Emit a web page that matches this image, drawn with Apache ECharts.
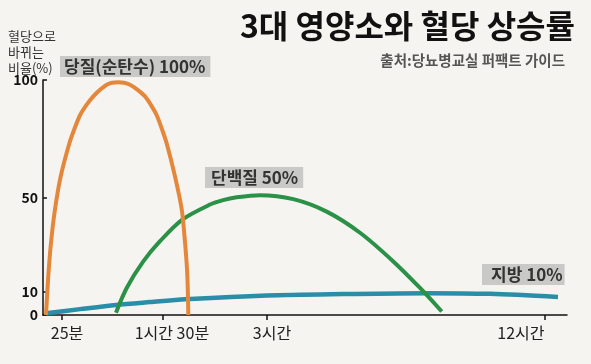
<!DOCTYPE html>
<html><head><meta charset="utf-8">
<script src="https://cdn.jsdelivr.net/npm/echarts@6/dist/echarts.min.js"></script>
<style>html,body{margin:0;padding:0;background:#f5f4f1}#c{width:591px;height:364px}</style>
</head><body><div id="c"></div>
<script>
// x is a display-position scale (0..100) of the chart's non-linear time axis
const xTickPos = [3.6, 22.9, 42.7, 95.8];
const xTickLabels = ['25분', '1시간 30분', '3시간', '12시간'];
const xLabelAt = [4.6, 24.6, 43.7, 91.2];
const yTicks = [0, 10, 50, 100];

const carbX = [0.57, 1.01, 1.53, 2.29, 3.38, 5.02, 5.97, 7.06, 8.34, 9.6, 10.88, 12.16, 13.17, 14.37, 15.46, 16.6, 17.94, 19.47, 20.61, 21.7, 22.71, 23.61, 25.19, 26.47, 27.1, 27.54, 27.73];
const carbY = [0, 16.6, 30.8, 45, 59, 73, 79, 85, 89.5, 93, 95.8, 98, 98.8, 99, 98.8, 98, 96, 93, 89.3, 85, 79, 73, 59, 45, 31, 17, 0];
const protX = [13.93, 15.97, 19.14, 22.33, 26.58, 31.87, 34.35, 36.97, 41.41, 47.77, 54.14, 60.5, 66.85, 71.95, 76.09];
const protY = [1, 11.5, 22.8, 31.4, 40.6, 47, 48.9, 50.1, 51, 49.3, 44, 35, 22.8, 11.5, 1.5];
const fatX = [0.57, 7.06, 13.93, 20.42, 28.05, 42.75, 57.25, 73.28, 85.3, 98.28];
const fatY = [0.7, 2.5, 4.3, 5.5, 6.8, 8.3, 8.9, 9.3, 9.0, 7.7];

const zip = (xs, ys) => xs.map((x, i) => [x, ys[i]]);
const chart = echarts.init(document.getElementById('c'));
const ff = '"Noto Sans CJK KR", "Noto Sans", sans-serif';
chart.setOption({
  backgroundColor: '#f5f4f1',
  animation: false,
  title: [
    {text: '3대 영양소와 혈당 상승률', right: 11, top: 5,
     textStyle: {fontSize: 32, fontWeight: 'bold', color: '#111', fontFamily: ff}},
    {text: '출처:당뇨병교실 퍼팩트 가이드', right: 21, top: 48,
     textStyle: {fontSize: 14.5, fontWeight: 'bold', color: '#555', fontFamily: ff}},
    {text: '혈당으로\n바뀌는\n비율(%)', left: 3, top: 23,
     textStyle: {fontSize: 13, fontWeight: 'normal', color: '#333', lineHeight: 16, fontFamily: ff}}
  ],
  grid: {left: 43, right: 24, top: 80, bottom: 49},
  xAxis: {
    type: 'value', min: 0, max: 100,
    axisLine: {lineStyle: {color: '#111', width: 1.5}},
    axisTick: {customValues: xTickPos, length: 5, lineStyle: {color: '#111', width: 1.5}},
    axisLabel: {customValues: xLabelAt, margin: 10, fontSize: 16, color: '#222', fontFamily: ff,
      formatter: v => { const i = xLabelAt.findIndex(p => Math.abs(p - v) < 0.01); return i >= 0 ? xTickLabels[i] : ''; }},
    splitLine: {show: false}
  },
  yAxis: {
    type: 'value', min: 0, max: 100,
    axisLine: {show: true, lineStyle: {color: '#111', width: 1.5}},
    axisTick: {show: true, inside: true, customValues: yTicks, length: 4, lineStyle: {color: '#111', width: 1.5}},
    axisLabel: {customValues: yTicks, margin: 5, fontSize: 14, fontWeight: 'bold', color: '#111', fontFamily: ff},
    splitLine: {show: false}
  },
  series: [
    {type: 'line', data: zip(fatX, fatY), smooth: 0.3, symbol: 'none', lineStyle: {color: '#2b8ea8', width: 4.5}},
    {type: 'line', data: zip(protX, protY), smooth: 0.3, symbol: 'none', lineStyle: {color: '#2a9146', width: 4}},
    {type: 'line', data: zip(carbX, carbY), smooth: 0.3, symbol: 'none', lineStyle: {color: '#e5873a', width: 4}}
  ],
  graphic: [
    {type: 'text', left: 60, top: 56, style: {text: '당질(순탄수) 100%', font: 'bold 17px ' + ff, fill: '#333',
      backgroundColor: '#c9c9c7', padding: [2, 5, 2, 4]}},
    {type: 'text', left: 205, top: 167, style: {text: '단백질 50%', font: 'bold 17px ' + ff, fill: '#333',
      backgroundColor: '#c9c9c7', padding: [2, 5, 2, 6]}},
    {type: 'text', left: 482, top: 264, style: {text: '지방 10%', font: 'bold 17px ' + ff, fill: '#333',
      backgroundColor: '#c9c9c7', padding: [2, 2, 2, 9]}}
  ]
});
</script></body></html>
